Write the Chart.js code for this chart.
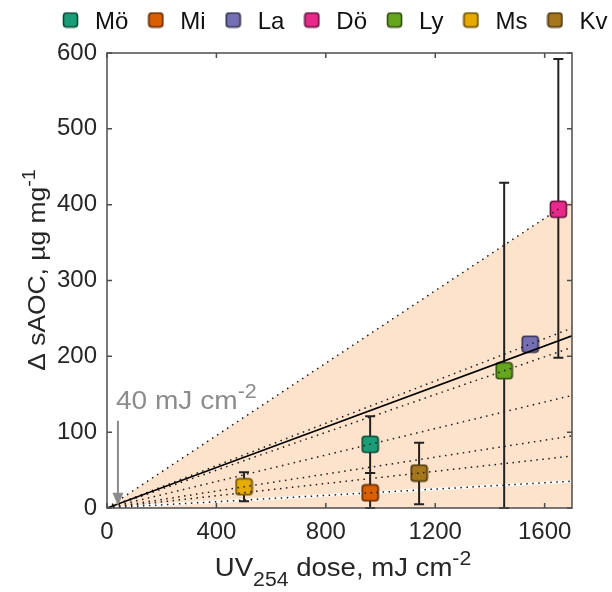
<!DOCTYPE html>
<html>
<head>
<meta charset="utf-8">
<script src="https://cdn.jsdelivr.net/npm/chart.js@4"></script>
<style>
  html, body { margin: 0; padding: 0; background: #fff; }
  #wrap { width: 612px; height: 592px; }
</style>
</head>
<body>
<div id="wrap"><canvas id="chart" width="612" height="592"></canvas></div>
<script>
// sites, their colours and measured values
const sites = ["Mö", "Mi", "La", "Dö", "Ly", "Ms", "Kv"];
const siteColors = ["#1b9e77", "#d95f02", "#7570b3", "#e7298a", "#66a61e", "#e6ab02", "#a6761d"];
const doses = [962, 962, 1547, 1650, 1452, 501, 1141];
const saoc = [84, 20, 216, 394, 181, 28, 46];
const errLow = [46, 0, 211, 198, 0, 9, 5];
const errHigh = [121, 46, 221, 592, 429, 47, 86];

// regression line through the origin
const fitX = [0, 1700];
const fitY = [0, 227];

// axis ticks
const xTicks = [0, 400, 800, 1200, 1600];
const yTicks = [0, 100, 200, 300, 400, 500, 600];

// marker for the lowest applied dose
const markDose = 40;
const markLabel = "40 mJ cm";

const X_MAX = 1700;
const FONT = "'Liberation Sans', Arial, Helvetica, sans-serif";
Chart.defaults.font.family = FONT;

function darken(hex, k) {
  const n = parseInt(hex.slice(1), 16);
  const r = Math.round(((n >> 16) & 255) * k);
  const g = Math.round(((n >> 8) & 255) * k);
  const b = Math.round((n & 255) * k);
  return `rgb(${r},${g},${b})`;
}

// small square with slightly rounded corners, one per site colour
function squareMarker(color, size) {
  const c = document.createElement("canvas");
  c.width = size + 2;
  c.height = size + 2;
  const g = c.getContext("2d");
  g.fillStyle = color;
  g.strokeStyle = darken(color, 0.45);
  g.lineWidth = 1.6;
  g.beginPath();
  g.roundRect(1.5, 1.5, size - 1, size - 1, 3);
  g.fill();
  g.stroke();
  return c;
}

// ray from the origin through each site, drawn out to the right edge
const rays = sites.map((s, i) => {
  const end = s === "Dö" ? doses[i] : X_MAX;
  return {
    type: "scatter",
    showLine: true,
    data: [{ x: 0, y: 0 }, { x: end, y: end * saoc[i] / doses[i] }],
    borderColor: "#1a1a1a",
    borderWidth: 1.5,
    borderDash: [1.5, 4.5],
    pointRadius: 0,
    order: 3,
  };
});

const iDo = sites.indexOf("Dö");
const iMi = sites.indexOf("Mi");

const datasets = [
  {
    // shaded range below the steepest site
    type: "scatter",
    showLine: true,
    data: [{ x: 0, y: 0 }, { x: X_MAX, y: X_MAX * saoc[iDo] / doses[iDo] }],
    fill: "origin",
    backgroundColor: "#fde2cc",
    borderWidth: 0,
    pointRadius: 0,
    order: 10,
  },
  {
    // lower edge of the range
    type: "scatter",
    showLine: true,
    data: [{ x: 0, y: 0 }, { x: X_MAX, y: X_MAX * saoc[iMi] / doses[iMi] }],
    borderColor: "#ffffff",
    borderWidth: 2.5,
    pointRadius: 0,
    order: 9,
  },
  {
    type: "scatter",
    data: doses.map((d, i) => ({ x: d, y: saoc[i] })),
    pointStyle: siteColors.map(c => squareMarker(c, 17)),
    pointRadius: 9,
    pointHoverRadius: 9,
    order: 5,
    isSites: true,
  },
  ...rays,
  {
    type: "scatter",
    showLine: true,
    data: fitX.map((x, i) => ({ x: x, y: fitY[i] })),
    borderColor: "#000",
    borderWidth: 1.6,
    pointRadius: 0,
    order: 2,
  },
];

// draws a string made of normal / sub / superscript parts,
// stretched a little sideways (hs) to get the wider letter shapes
function richText(ctx, parts, x, y, size, small, align, hs) {
  const widths = parts.map(p => {
    ctx.font = `${p.s ? small : size}px ${FONT}`;
    return ctx.measureText(p.t).width;
  });
  const total = widths.reduce((a, b) => a + b, 0);
  ctx.save();
  ctx.translate(x, y);
  ctx.scale(hs, 1);
  let cx = align === "center" ? -total / 2 : 0;
  parts.forEach((p, i) => {
    ctx.font = `${p.s ? small : size}px ${FONT}`;
    const dy = p.s === "sub" ? size * 0.4 : p.s === "sup" ? -size * 0.42 : 0;
    ctx.fillText(p.t, cx, dy);
    cx += widths[i];
  });
  ctx.restore();
}

const extras = {
  id: "extras",
  beforeDatasetDraw(chart, args) {
    if (!args.meta._dataset.isSites) return;
    const { ctx, scales: { x, y } } = chart;
    ctx.save();
    ctx.strokeStyle = "#222";
    ctx.lineWidth = 2;
    doses.forEach((d, i) => {
      const px = x.getPixelForValue(d);
      const lo = y.getPixelForValue(errLow[i]);
      const hi = y.getPixelForValue(errHigh[i]);
      ctx.beginPath();
      ctx.moveTo(px, lo); ctx.lineTo(px, hi);
      ctx.moveTo(px - 5, lo); ctx.lineTo(px + 5, lo);
      ctx.moveTo(px - 5, hi); ctx.lineTo(px + 5, hi);
      ctx.stroke();
    });
    ctx.restore();
  },
  afterDraw(chart) {
    const { ctx, chartArea: a, scales: { x, y } } = chart;
    ctx.save();

    // frame and inward ticks
    ctx.strokeStyle = "#4d4d4d";
    ctx.lineWidth = 1.5;
    ctx.strokeRect(a.left, a.top, a.right - a.left, a.bottom - a.top);
    ctx.beginPath();
    yTicks.forEach(v => {
      const py = y.getPixelForValue(v);
      ctx.moveTo(a.left, py); ctx.lineTo(a.left + 5, py);
      ctx.moveTo(a.right, py); ctx.lineTo(a.right - 5, py);
    });
    xTicks.forEach(v => {
      const px = x.getPixelForValue(v);
      ctx.moveTo(px, a.bottom); ctx.lineTo(px, a.bottom - 5);
      ctx.moveTo(px, a.top); ctx.lineTo(px, a.top + 5);
    });
    ctx.stroke();

    // lowest dose arrow
    const ax = x.getPixelForValue(markDose);
    const top = y.getPixelForValue(115);
    const tip = y.getPixelForValue(3);
    ctx.strokeStyle = "#8c8c8c";
    ctx.fillStyle = "#8c8c8c";
    ctx.lineWidth = 2;
    ctx.beginPath();
    ctx.moveTo(ax, top); ctx.lineTo(ax, tip - 8);
    ctx.stroke();
    ctx.beginPath();
    ctx.moveTo(ax - 5.5, tip - 13); ctx.lineTo(ax + 5.5, tip - 13); ctx.lineTo(ax, tip);
    ctx.closePath();
    ctx.fill();
    ctx.textBaseline = "alphabetic";
    richText(ctx, [{ t: markLabel }, { t: "-2", s: "sup" }], ax - 2, top - 12, 26, 20, "left", 1.08);

    // axis titles
    ctx.fillStyle = "#262626";
    richText(ctx, [{ t: "UV" }, { t: "254", s: "sub" }, { t: " dose, mJ cm" }, { t: "-2", s: "sup" }],
      343, 576, 26, 20, "center", 1.06);
    ctx.save();
    ctx.translate(45, 270);
    ctx.rotate(-Math.PI / 2);
    richText(ctx, [{ t: "Δ sAOC, µg mg" }, { t: "-1", s: "sup" }], 0, 0, 24, 18, "center", 1.1);
    ctx.restore();

    // legend row
    ctx.font = `24px ${FONT}`;
    ctx.textBaseline = "alphabetic";
    let lx = 63;
    sites.forEach((s, i) => {
      ctx.drawImage(squareMarker(siteColors[i], 15), lx - 1, 11.5);
      ctx.fillStyle = "#111";
      ctx.fillText(s, lx + 32, 28.5);
      lx += 32 + ctx.measureText(s).width + 20;
    });
    ctx.restore();
  },
};

new Chart(document.getElementById("chart"), {
  type: "scatter",
  data: { datasets },
  options: {
    responsive: false,
    animation: false,
    events: [],
    layout: { padding: { top: 53, right: 40, left: 0, bottom: 0 } },
    plugins: { legend: { display: false }, tooltip: { enabled: false } },
    scales: {
      x: {
        type: "linear",
        min: 0,
        max: X_MAX,
        grid: { display: false, drawTicks: false },
        border: { display: false },
        afterBuildTicks: s => { s.ticks = xTicks.map(v => ({ value: v })); },
        afterFit: s => { s.height = 84; },
        ticks: { color: "#262626", font: { size: 24 }, padding: 10, maxRotation: 0, callback: v => String(v) },
      },
      y: {
        type: "linear",
        min: 0,
        max: 600,
        grid: { display: false, drawTicks: false },
        border: { display: false },
        afterBuildTicks: s => { s.ticks = yTicks.map(v => ({ value: v })); },
        afterFit: s => { s.width = 107; },
        ticks: { color: "#262626", font: { size: 24 }, padding: 10, callback: v => String(v) },
      },
    },
  },
  plugins: [extras],
});
</script>
</body>
</html>
